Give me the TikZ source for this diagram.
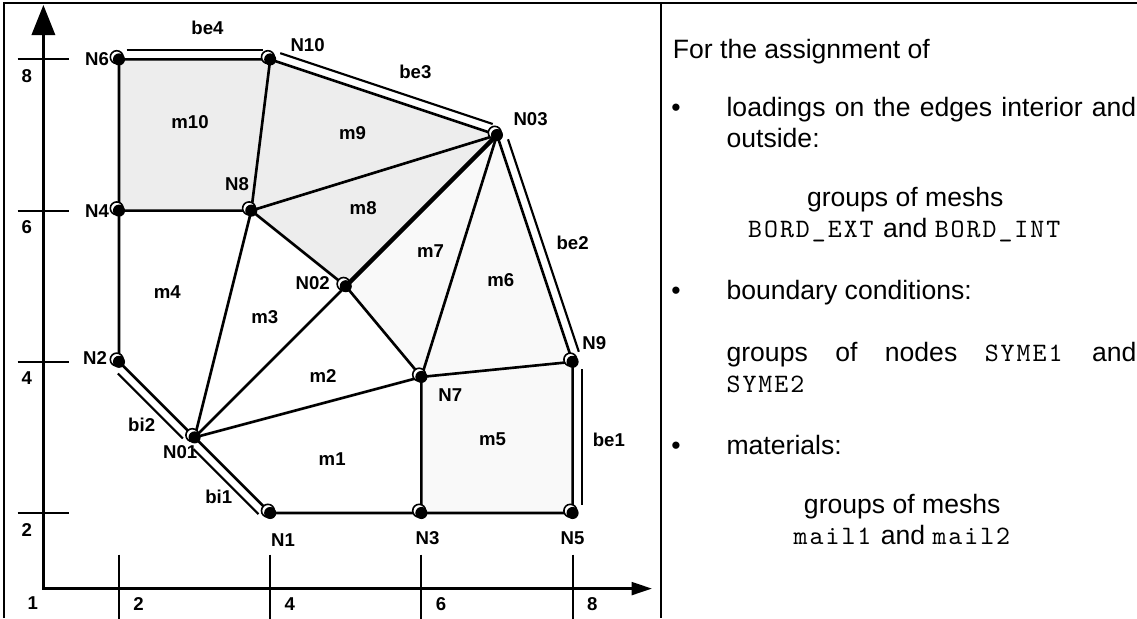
\documentclass[tikz,border=0pt]{standalone}
\usepackage{fontspec}
\setmainfont{Liberation Sans}
\setmonofont{Latin Modern Mono}[LetterSpace=7.5]
\usetikzlibrary{calc,arrows.meta}
\definecolor{meshdark}{gray}{.93}
\definecolor{meshlight}{gray}{.975}
\tikzset{
	edge/.style={line width=1pt, line join=round},
	bord/.style={line width=.8pt, shorten <=.1cm, shorten >=.1cm},
	lbl/.style={font=\fontsize{7}{8}\selectfont\bfseries, inner sep=0pt},
	txt/.style={font=\fontsize{10}{12}\selectfont, inner sep=0pt, anchor=base west},
	ctxt/.style={font=\fontsize{10}{12}\selectfont, inner sep=0pt, anchor=base}
}
\begin{document}
\begin{tikzpicture}
			\useasboundingbox (.426,.611) rectangle (15.466,8.786);
			\draw[line width=.5pt] (.479,.611) -- (.479,8.746) -- (15.466,8.746) (9.17,8.746) -- (9.17,.611);
			\path
			(2,8) coordinate (N6)
			(4,8) coordinate (N10)
			(7,7) coordinate (N03)
			(2,6) coordinate (N4)
			(3.75,6) coordinate (N8)
			(5,5) coordinate (N02)
			(2,4) coordinate (N2)
			(8,4) coordinate (N9)
			(6,3.8) coordinate (N7)
			(3,3) coordinate (N01)
			(4,2) coordinate (N1)
			(6,2) coordinate (N3)
			(8,2) coordinate (N5)
			;
			\fill[meshdark] (N6)--(N10)--(N03)--(N02)--(N8)--(N4)--cycle;
			\fill[meshlight] (N02)--(N03)--(N9)--(N5)--(N3)--(N7)--cycle;
			\draw[line width=1pt, {Triangle[length=.4cm,width=.31cm]}-{Triangle[length=.27cm,width=.17cm]}] (1,8.72) -- (1,1) -- (9.05,1);
			\foreach \y in {2,4,6,8} \draw[line width=.8pt] (.66,\y) -- (1.34,\y) (.78,\y-.22) node[lbl]{\y};
			\foreach \x in {2,4,6,8} \draw[line width=.8pt] (\x,1.45) -- (\x,.6) (\x+.26,.8) node[lbl]{\x};
			\node[lbl] (orig) at (.86,.81) {1};
			\draw[edge] (N6)--(N10)--(N03)--(N9)--(N5)--(N3)--(N1)--(N01)--(N2)--(N4)--cycle
			(N4)--(N8)--(N10) (N8)--(N03) (N8)--(N02) (N8)--(N01) (N01)--(N02) (N02)--(N7)--(N03) (N7)--(N9) (N7)--(N3) (N01)--(N7);
			\draw[line width=1.6pt] (N02)--(N03);
			\foreach \a/\b in {N6/N10,N10/N03,N03/N9,N9/N5,N01/N2,N1/N01} \draw[bord] ($(\a)!.12cm!90:(\b)$) -- ($(\b)!.12cm!-90:(\a)$);
			\foreach \x/\g/\d in {N6/180/.29,N10/21/.53,N03/25/.49,N4/180/.29,N8/118/.4,N02/175/.44,N2/171/.32,N9/41/.38,N7/-32/.45,N01/-135/.27,N1/-65/.4,N3/-76/.34,N5/-90/.33} {\draw[fill=white, line width=.6pt] (\x) ++(-.03,.03) circle (.085); \fill (\x) circle (.08); \path (\x) + (\g:\d) node[lbl]{\x};}
			\foreach \m/\x/\y in {m10/2.94/7.17,m9/5.09/7.03,m8/5.23/6.03,m7/6.12/5.47,m6/7.05/5.08,m5/6.94/2.97,m4/2.64/4.92,m3/3.93/4.59,m2/4.70/3.81,m1/4.82/2.71} \node[lbl] (\m) at (\x,\y) {\m};
			\foreach \e/\x/\y in {be4/3.17/8.42,be3/5.92/7.83,be2/8.0/5.57,be1/8.48/2.97,bi2/2.30/3.16,bi1/3.32/2.22} \node[lbl] (\e) at (\x,\y) {\e};
			\node[txt] (intro) at (9.32,8.01) {For the assignment of};
			\foreach \y/\n in {7.24/bulA,4.82/bulB,2.78/bulC} \node[txt] (\n) at (9.30,\y) {\textbullet};
			\node[txt] (load) at (10.03,7.24) {\makebox[5.42cm][s]{loadings on the edges interior and}};
			\node[txt] (outside) at (10.03,6.83) {outside:};
			\node[ctxt] (grpbord) at (12.40,6.05) {groups of meshs};
			\node[ctxt] (bord) at (12.40,5.64) {\texttt{BORD\_EXT} and \texttt{BORD\_INT}};
			\node[txt] (bound) at (10.03,4.82) {boundary conditions:};
			\node[txt] (syme) at (10.03,4.0) {\makebox[5.42cm][s]{groups of nodes \texttt{SYME1} and}};
			\node[txt] (symeb) at (10.03,3.60) {\texttt{SYME2}};
			\node[txt] (mat) at (10.03,2.78) {materials:};
			\node[ctxt] (grpmail) at (12.36,2.0) {groups of meshs};
			\node[ctxt] (mail) at (12.37,1.58) {\texttt{mail1} and \texttt{mail2}};
		\end{tikzpicture}
\end{document}
